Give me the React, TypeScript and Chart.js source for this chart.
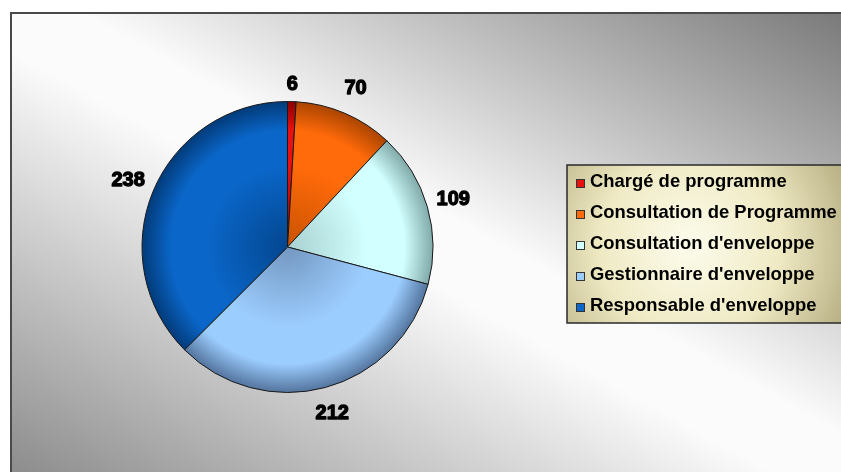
import React, { useEffect, useRef } from "react";
import { Chart, registerables } from "chart.js";

Chart.register(...registerables);

const categories = [
  "Chargé de programme",
  "Consultation de Programme",
  "Consultation d'enveloppe",
  "Gestionnaire d'enveloppe",
  "Responsable d'enveloppe",
];
const values = [6, 70, 109, 212, 238];
const midColors = ["#e81010", "#ff6a0a", "#d2ffff", "#9ccdff", "#0a66c8"];
const edgeColors = ["#8a0000", "#a84400", "#7fa8a8", "#52739c", "#023a78"];
const innerColors = ["#a00000", "#c85200", "#a8d0d0", "#7397c0", "#03468f"];

const bgPlugin = {
  id: "bgPlugin",
  beforeDraw(chart: any) {
    const ctx = chart.ctx as CanvasRenderingContext2D;
    const W = chart.width;
    const H = chart.height;
    ctx.save();
    ctx.fillStyle = "#ffffff";
    ctx.fillRect(0, 0, W, H);
    const fx = 10, fy = 12;
    const cx = (fx + W) / 2, cy = (fy + H) / 2;
    const ux = 0.484, uy = -0.875, k = 410;
    const g = ctx.createLinearGradient(cx + ux * k, cy + uy * k, cx - ux * k, cy - uy * k);
    g.addColorStop(0, "#777777");
    g.addColorStop(0.46, "#fbfbfb");
    g.addColorStop(0.54, "#fbfbfb");
    g.addColorStop(1, "#8a8a8a");
    ctx.fillStyle = g;
    ctx.fillRect(fx, fy, W - fx, H - fy);
    ctx.strokeStyle = "#4a4a4a";
    ctx.lineWidth = 2;
    ctx.strokeRect(fx + 1, fy + 1, W + 20, H + 20);
    ctx.restore();
  },
};

const labelPlugin = {
  id: "labelPlugin",
  afterDatasetsDraw(chart: any) {
    const ctx = chart.ctx as CanvasRenderingContext2D;
    const meta = chart.getDatasetMeta(0);
    ctx.save();
    ctx.font = "900 20px 'Liberation Sans', Arial, sans-serif";
    ctx.fillStyle = "#000";
    ctx.strokeStyle = "#000";
    ctx.lineWidth = 1.3;
    ctx.lineJoin = "round";
    ctx.textAlign = "center";
    ctx.textBaseline = "middle";
    meta.data.forEach((arc: any, i: number) => {
      const a = (arc.startAngle + arc.endAngle) / 2;
      const r = arc.outerRadius + (i === 0 ? 17 : 27);
      const x = arc.x + Math.cos(a) * r;
      const y = arc.y + Math.sin(a) * r;
      const t = String(values[i]);
      ctx.fillText(t, x, y);
      ctx.strokeText(t, x, y);
    });
    ctx.restore();
  },
};

const legendPlugin = {
  id: "legendPlugin",
  afterDraw(chart: any) {
    const ctx = chart.ctx as CanvasRenderingContext2D;
    const bx = 567, by = 165, bw = 300, bh = 158;
    ctx.save();
    const g = ctx.createRadialGradient(690, 245, 10, 690, 245, 170);
    g.addColorStop(0, "#fbfae8");
    g.addColorStop(0.5, "#efeac4");
    g.addColorStop(1, "#b9b084");
    ctx.fillStyle = g;
    ctx.fillRect(bx, by, bw, bh);
    ctx.strokeStyle = "#2a2a2a";
    ctx.lineWidth = 1.5;
    ctx.strokeRect(bx, by, bw, bh);
    categories.forEach((c, i) => {
      const y = 182 + i * 31;
      ctx.fillStyle = midColors[i];
      ctx.fillRect(576, y - 3, 9, 9);
      ctx.strokeStyle = "#333";
      ctx.lineWidth = 1;
      ctx.strokeRect(576.5, y - 2.5, 8, 8);
      ctx.save();
      ctx.translate(590, y);
      ctx.scale(0.97, 1);
      ctx.font = "bold 19px 'Liberation Sans', Arial, sans-serif";
      ctx.fillStyle = "#000";
      ctx.textAlign = "left";
      ctx.textBaseline = "middle";
      ctx.fillText(c, 0, 0);
      ctx.restore();
    });
    ctx.restore();
  },
};

export default function App() {
  const ref = useRef<HTMLCanvasElement>(null);
  useEffect(() => {
    if (!ref.current) return;
    const chart = new Chart(ref.current, {
      type: "pie",
      data: {
        labels: categories,
        datasets: [
          {
            data: values,
            backgroundColor: (c: any) => {
              const chart = c.chart;
              const area = chart.chartArea;
              const i = c.dataIndex;
              if (!area || i === undefined) return midColors[i ?? 0];
              const cx = (area.left + area.right) / 2;
              const cy = (area.top + area.bottom) / 2;
              const r = Math.min(area.right - area.left, area.bottom - area.top) / 2;
              const g = chart.ctx.createRadialGradient(cx, cy, 0, cx, cy, r);
              g.addColorStop(0, innerColors[i]);
              g.addColorStop(0.55, midColors[i]);
              g.addColorStop(0.8, midColors[i]);
              g.addColorStop(1, edgeColors[i]);
              return g;
            },
            borderColor: "#1a1a1a",
            borderWidth: 1,
          },
        ],
      },
      options: {
        animation: false,
        responsive: true,
        maintainAspectRatio: false,
        layout: { padding: { left: 141, right: 407, top: 101, bottom: 79 } },
        plugins: {
          legend: { display: false },
          tooltip: { enabled: false },
        },
      },
      plugins: [bgPlugin, labelPlugin, legendPlugin],
    });
    return () => chart.destroy();
  }, []);
  return (
    <div style={{ position: "absolute", left: 0, top: 0, width: 841, height: 472 }}>
      <canvas ref={ref} />
    </div>
  );
}
